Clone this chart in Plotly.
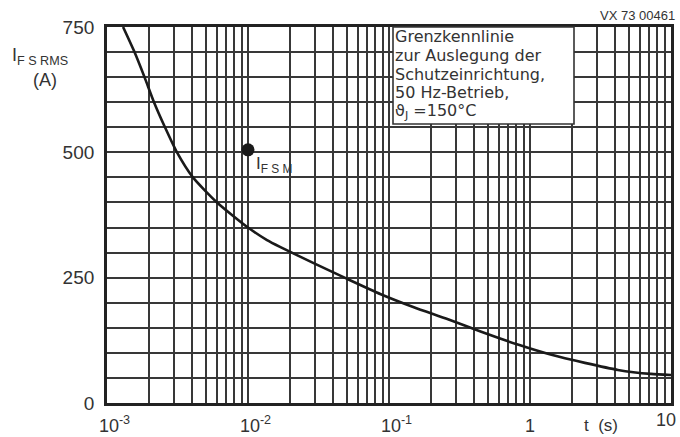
import plotly.graph_objects as go

# Curve data (t in s, I in A)
t_vals = [1.30e-3, 1.567e-3, 1.845e-3, 2.154e-3, 2.578e-3, 3.137e-3, 4.07e-3, 6.03e-3,
          1.0e-2, 1.364e-2, 1.70e-2, 2.92e-2, 5.1e-2, 8.74e-2, 0.150, 0.262, 0.451,
          0.83, 1.42, 2.45, 4.2, 7.2, 10.0]
i_vals = [750, 700, 650, 600, 550, 500, 450, 400,
          350, 325, 311, 279, 247, 217, 191, 167, 142,
          116, 96, 80, 66, 58, 56]

# IFSM point
fsm_t = [0.01]
fsm_i = [505]

# Axis ticks
NB = "\u00a0\u00a0\u00a0"
decades = [-3, -2, -1, 0]
x_major_labels = {0.001: NB + "10<sup>-3</sup>", 0.01: NB + "10<sup>-2</sup>",
                  0.1: NB + "10<sup>-1</sup>", 1: "1"}
x_end_label = "10"
y_labels = {0: "0", 250: "250", 500: "500", 750: "750"}

x_tickvals = []
for d in decades:
    for k in range(1, 10):
        x_tickvals.append(round(k * 10 ** d, 6))
x_tickvals.append(10)
x_ticktext = [x_major_labels.get(v, "") for v in x_tickvals]

y_tickvals = list(range(0, 751, 50))
y_ticktext = [y_labels.get(v, "") for v in y_tickvals]

info_lines = ["Grenzkennlinie", "zur Auslegung der", "Schutzeinrichtung,",
              "50 Hz-Betrieb,", "ϑ<sub>J</sub> =150°C"]

GRID = "#383838"
FONT = "Liberation Sans"
TXT = "#333333"

fig = go.Figure()
fig.add_trace(go.Scatter(x=t_vals, y=i_vals, mode="lines",
                         line=dict(color="#1a1a1a", width=2.6, shape="spline", smoothing=0.6),
                         hoverinfo="skip", showlegend=False))
fig.add_trace(go.Scatter(x=fsm_t, y=fsm_i, mode="markers",
                         marker=dict(color="#1a1a1a", size=13),
                         hoverinfo="skip", showlegend=False))

L, R, T, B = 107, 9, 27, 34
W, H = 680, 437
pw, ph = W - L - R, H - T - B

def px(x):
    return (x - L) / pw

def py(y):
    return (H - B - y) / ph

fig.update_layout(
    width=W, height=H,
    margin=dict(l=L, r=R, t=T, b=B, autoexpand=False),
    paper_bgcolor="white", plot_bgcolor="white",
    font=dict(family=FONT, color=TXT, size=19),
    xaxis=dict(type="log", range=[-3, 1], tickvals=x_tickvals, ticktext=x_ticktext,
               showgrid=True, gridcolor=GRID, gridwidth=1.6, zeroline=False,
               showline=True, linecolor="#222222", linewidth=2.8, mirror=True,
               automargin=False,
               ticks="", tickfont=dict(size=18, family=FONT), ticklabelstandoff=4),
    yaxis=dict(range=[0, 750], tickvals=y_tickvals, ticktext=y_ticktext,
               showgrid=True, gridcolor=GRID, gridwidth=1.6, zeroline=False,
               showline=True, linecolor="#222222", linewidth=2.8, mirror=True,
               automargin=False,
               ticks="", tickfont=dict(size=19, family=FONT), ticklabelstandoff=6),
)

# white info box
fig.add_shape(type="rect", xref="paper", yref="paper",
              x0=px(393), x1=px(574), y0=py(124), y1=1.0,
              fillcolor="white", line=dict(color="#333333", width=1.6), layer="above")

line_y = [37, 55.5, 74, 92.5, 111]
for txt, yy in zip(info_lines, line_y):
    fig.add_annotation(text=txt, xref="paper", yref="paper", x=px(393), y=py(yy),
                       xanchor="left", yanchor="middle", showarrow=False,
                       font=dict(size=16, family="DejaVu Sans", color=TXT))

# IFSM label
fig.add_annotation(text="I<sub>F S M</sub>", xref="paper", yref="paper",
                   x=px(254), y=py(165), xanchor="left", yanchor="middle",
                   showarrow=False, font=dict(size=17, family=FONT, color=TXT))

# y-axis title
fig.add_annotation(text="I<sub>F S RMS</sub>", xref="paper", yref="paper",
                   x=px(10), y=py(57), xanchor="left", yanchor="middle",
                   showarrow=False, font=dict(size=18, family=FONT, color=TXT))
fig.add_annotation(text="(A)", xref="paper", yref="paper",
                   x=px(45), y=py(80), xanchor="center", yanchor="middle",
                   showarrow=False, font=dict(size=18, family=FONT, color=TXT))

# x-axis end label and title
fig.add_annotation(text=x_end_label, xref="paper", yref="paper",
                   x=px(666), y=py(420), xanchor="center", yanchor="middle",
                   showarrow=False, font=dict(size=18, family=FONT, color=TXT))
fig.add_annotation(text="t  (s)", xref="paper", yref="paper",
                   x=px(601), y=py(425), xanchor="center", yanchor="middle",
                   showarrow=False, font=dict(size=17, family=FONT, color=TXT))

# drawing number
fig.add_annotation(text="VX 73 00461", xref="paper", yref="paper",
                   x=px(677), y=py(15), xanchor="right", yanchor="middle",
                   showarrow=False, font=dict(size=13, family=FONT, color=TXT))

fig.write_html("out.html", config={"displayModeBar": False},
               post_script="document.body.style.margin='0';")
